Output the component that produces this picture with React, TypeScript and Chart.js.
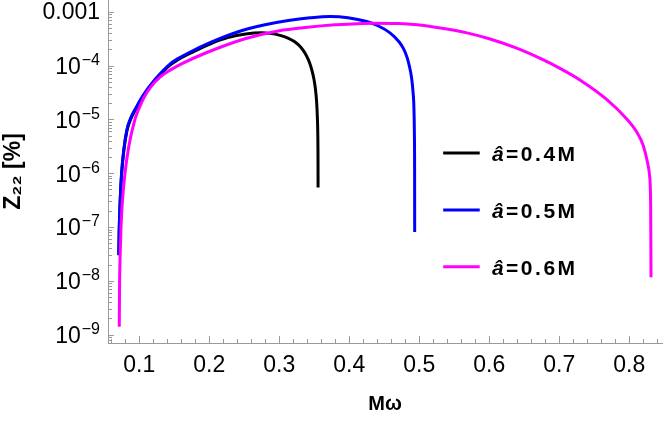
import React, { useEffect, useRef } from "react";
import { Chart, registerables } from "chart.js";

Chart.register(...registerables);

// Mω and Z22 [%]
const xBlack = [0.0707, 0.0714, 0.0727, 0.0747, 0.0779, 0.0824, 0.0881, 0.0939, 0.1053, 0.1224, 0.1438, 0.1553, 0.17, 0.201, 0.2263, 0.252, 0.2753, 0.2867, 0.301, 0.3124, 0.321, 0.3281, 0.3339, 0.3389, 0.3431, 0.3467, 0.3496, 0.3517, 0.3533, 0.3544, 0.355, 0.3553, 0.3554];
const zBlack = [3.0e-8, 9.5e-8, 3.0e-7, 9.5e-7, 2.65e-6, 6.2e-6, 1.04e-5, 1.46e-5, 2.65e-5, 5.25e-5, 1.02e-4, 1.29e-4, 1.63e-4, 2.52e-4, 3.31e-4, 3.88e-4, 4.08e-4, 3.98e-4, 3.66e-4, 3.26e-4, 2.84e-4, 2.39e-4, 1.94e-4, 1.52e-4, 1.14e-4, 8.08e-5, 5.51e-5, 3.6e-5, 2.15e-5, 1.09e-5, 5.27e-6, 1.82e-6, 5.43e-7];

const xBlue = [0.0707, 0.0714, 0.0727, 0.0747, 0.0779, 0.0824, 0.0881, 0.0939, 0.1053, 0.1224, 0.1438, 0.1553, 0.17, 0.201, 0.2414, 0.2796, 0.3129, 0.3439, 0.3724, 0.3981, 0.4249, 0.441, 0.4581, 0.471, 0.4774, 0.4824, 0.486, 0.4889, 0.491, 0.4924, 0.493, 0.4933, 0.4934];
const zBlue = [3.16e-8, 1.0e-7, 3.16e-7, 1.0e-6, 2.78e-6, 6.53e-6, 1.09e-5, 1.53e-5, 2.78e-5, 5.51e-5, 1.07e-4, 1.35e-4, 1.72e-4, 2.67e-4, 4.27e-4, 5.75e-4, 6.9e-4, 7.74e-4, 8.18e-4, 7.78e-4, 6.6e-4, 5.51e-4, 4.07e-4, 2.78e-4, 2.07e-4, 1.44e-4, 9.58e-5, 6.0e-5, 3.3e-5, 1.53e-5, 5.27e-6, 1.19e-6, 8.07e-8];

const xMagenta = [0.0714, 0.0719, 0.0727, 0.0739, 0.076, 0.0796, 0.085, 0.0938, 0.0996, 0.1067, 0.1167, 0.1296, 0.1453, 0.161, 0.1939, 0.251, 0.3, 0.337, 0.38, 0.432, 0.47, 0.497, 0.53, 0.568, 0.6, 0.64, 0.675, 0.701, 0.73, 0.768, 0.797, 0.81, 0.82, 0.826, 0.829, 0.8305, 0.831];
const zMagenta = [1.41e-9, 1.0e-8, 3.16e-8, 1.0e-7, 3.16e-7, 1.0e-6, 3.16e-6, 1.0e-5, 1.6e-5, 2.55e-5, 4.08e-5, 6.12e-5, 8.43e-5, 1.09e-4, 1.7e-4, 3.16e-4, 4.47e-4, 5.13e-4, 5.75e-4, 6.17e-4, 6.1e-4, 5.75e-4, 5.01e-4, 4.07e-4, 3.16e-4, 2.09e-4, 1.32e-4, 8.91e-5, 5.37e-5, 2.34e-5, 1.0e-5, 6.03e-6, 3.24e-6, 1.58e-6, 8.91e-7, 2.51e-7, 1.17e-8];

const seriesLabels = ["0.4M", "0.5M", "0.6M"];
const xMajorTicks = [0.1, 0.2, 0.3, 0.4, 0.5, 0.6, 0.7, 0.8];
const yDecades = [-9, -8, -7, -6, -5, -4, -3];

const X_MIN = 0.0553;
const X_MAX = 0.8467;
const Y_MIN = 7.4e-10;
const Y_MAX = 1.66e-3;
const AXIS = "#9a9a9a";
const FONT = "'Liberation Sans', Arial, sans-serif";

const isMajorX = (v: number) => xMajorTicks.some((m) => Math.abs(m - v) < 1e-6);
const isDecade = (v: number) => Math.abs(Math.log10(v) - Math.round(Math.log10(v))) < 1e-6;

const points = (xs: number[], ys: number[]) => xs.map((x, i) => ({ x, y: ys[i] }));

// ticks pointing into the plot, Mathematica style
const insideTicks = {
  id: "insideTicks",
  afterDatasetsDraw(chart: any) {
    const { ctx, chartArea: a, scales } = chart;
    ctx.save();
    ctx.strokeStyle = AXIS;
    ctx.lineWidth = 1;
    ctx.beginPath();
    for (const t of scales.x.ticks) {
      const px = Math.round(scales.x.getPixelForValue(t.value)) + 0.5;
      const len = isMajorX(t.value) ? 7 : 4;
      ctx.moveTo(px, a.bottom);
      ctx.lineTo(px, a.bottom - len);
    }
    for (const t of scales.y.ticks) {
      const py = Math.round(scales.y.getPixelForValue(t.value)) + 0.5;
      const len = isDecade(t.value) ? 6 : 4;
      ctx.moveTo(a.left, py);
      ctx.lineTo(a.left + len, py);
    }
    ctx.stroke();
    ctx.restore();
  },
};

// y labels with proper raised exponents: 10^-4 etc.
const powerLabels = {
  id: "powerLabels",
  afterDraw(chart: any) {
    const { ctx, chartArea: a, scales } = chart;
    const right = a.left - 8;
    ctx.save();
    ctx.fillStyle = "#000";
    ctx.textBaseline = "middle";
    ctx.textAlign = "right";
    for (const e of yDecades) {
      const py = scales.y.getPixelForValue(Math.pow(10, e));
      if (e === -3) {
        ctx.font = `23px ${FONT}`;
        ctx.fillText("0.001", right, py + 1);
        continue;
      }
      const exp = "\u2212" + Math.abs(e);
      ctx.font = `16px ${FONT}`;
      ctx.fillText(exp, right, py - 5);
      const wExp = ctx.measureText(exp).width;
      ctx.font = `23px ${FONT}`;
      ctx.fillText("10", right - wExp - 1, py + 2);
    }
    ctx.restore();
  },
};

const legendInside = {
  id: "legendInside",
  afterDatasetsDraw(chart: any) {
    const { ctx, chartArea: a } = chart;
    const w = a.right - a.left;
    const h = a.bottom - a.top;
    const rows = [0.446, 0.612, 0.778];
    chart.data.datasets.forEach((ds: any, i: number) => {
      const y = a.top + h * rows[i];
      ctx.save();
      ctx.strokeStyle = ds.borderColor;
      ctx.lineWidth = 3;
      ctx.beginPath();
      ctx.moveTo(a.left + w * 0.605, y);
      ctx.lineTo(a.left + w * 0.671, y);
      ctx.stroke();
      ctx.fillStyle = "#000";
      ctx.textBaseline = "middle";
      (ctx as any).letterSpacing = "2.5px";
      let x = a.left + w * 0.693;
      ctx.font = `italic bold 21px ${FONT}`;
      ctx.fillText("â", x, y + 2);
      x += ctx.measureText("â").width;
      ctx.font = `bold 21px ${FONT}`;
      ctx.fillText("=" + seriesLabels[i], x, y + 2);
      ctx.restore();
    });
  },
};

const App: React.FC = () => {
  const canvasRef = useRef<HTMLCanvasElement | null>(null);

  useEffect(() => {
    document.body.style.margin = "0";
    if (!canvasRef.current) return;

    const line = (xs: number[], ys: number[], color: string, order: number) => ({
      data: points(xs, ys),
      borderColor: color,
      backgroundColor: color,
      borderWidth: 3,
      pointRadius: 0,
      fill: false,
      cubicInterpolationMode: "monotone" as const,
      order,
    });

    const chart = new Chart(canvasRef.current, {
      type: "line",
      data: {
        datasets: [
          { label: "â=" + seriesLabels[0], ...line(xBlack, zBlack, "#000000", 3) },
          { label: "â=" + seriesLabels[1], ...line(xBlue, zBlue, "#0000ff", 2) },
          { label: "â=" + seriesLabels[2], ...line(xMagenta, zMagenta, "#ff00ff", 1) },
        ],
      },
      options: {
        responsive: false,
        animation: false,
        layout: { padding: { left: 0, top: 0, right: 2, bottom: 0 } },
        plugins: { legend: { display: false }, tooltip: { enabled: false } },
        scales: {
          x: {
            type: "linear",
            min: X_MIN,
            max: X_MAX,
            grid: { display: false, drawTicks: false },
            border: { display: true, color: AXIS, width: 1 },
            afterBuildTicks: (scale: any) => {
              const ticks = [];
              for (let i = 3; i <= 42; i++) ticks.push({ value: i / 50 });
              scale.ticks = ticks;
            },
            afterFit: (scale: any) => {
              scale.height = 78;
              scale.paddingLeft = 0;
              scale.paddingRight = 0;
            },
            ticks: {
              autoSkip: false,
              maxRotation: 0,
              padding: 9,
              color: "#000",
              font: { family: FONT, size: 23 },
              callback: (v: any) => (isMajorX(Number(v)) ? Number(v).toFixed(1) : ""),
            },
            title: {
              display: true,
              text: "Mω",
              color: "#000",
              font: { family: FONT, size: 20, weight: "bold" },
              padding: { top: 0, bottom: 5 },
            },
          },
          y: {
            type: "logarithmic",
            min: Y_MIN,
            max: Y_MAX,
            grid: { display: false, drawTicks: false },
            border: { display: true, color: AXIS, width: 1 },
            afterBuildTicks: (scale: any) => {
              const ticks = [];
              for (let e = -10; e <= -3; e++) {
                for (let k = 1; k <= 9; k++) {
                  const v = k * Math.pow(10, e);
                  if (v >= Y_MIN && v <= Y_MAX) ticks.push({ value: v });
                }
              }
              scale.ticks = ticks;
            },
            afterFit: (scale: any) => {
              scale.width = 108;
              scale.paddingTop = 0;
              scale.paddingBottom = 0;
            },
            ticks: { display: false },
            title: {
              display: true,
              text: "Z₂₂ [%]",
              color: "#000",
              font: { family: FONT, size: 23, weight: "bold" },
              padding: { top: 0, bottom: 0 },
            },
          },
        },
      },
      plugins: [insideTicks, legendInside, powerLabels],
    });

    return () => {
      chart.destroy();
    };
  }, []);

  return (
    <div style={{ width: 664, height: 421, background: "#fff" }}>
      <canvas ref={canvasRef} width={664} height={421}></canvas>
    </div>
  );
};

export default App;
